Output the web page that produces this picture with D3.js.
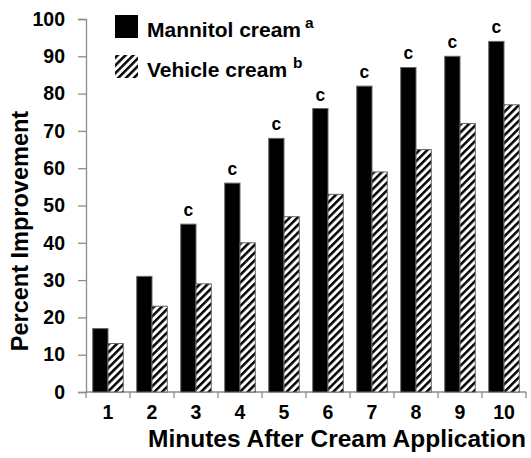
<!DOCTYPE html>
<html><head><meta charset="utf-8">
<script src="https://cdn.jsdelivr.net/npm/d3@7"></script>
<style>
body{margin:0;background:#fff;}
svg{display:block;font-family:"Liberation Sans",Arial,sans-serif;font-weight:bold;}
</style></head>
<body>
<script>
const categories = ["1","2","3","4","5","6","7","8","9","10"];
const mannitol = [17,31,45,56,68,76,82,87,90,94];
const vehicle = [13,23,29,40,47,53,59,65,72,77];
const sigMarks = ["","","c","c","c","c","c","c","c","c"];
const yTicks = [0,10,20,30,40,50,60,70,80,90,100];
const seriesNames = ["Mannitol cream","Vehicle cream"];
const seriesSup = ["a","b"];

const W=531,H=458;
const svg=d3.select("body").append("svg").attr("width",W).attr("height",H);
const defs=svg.append("defs");
const pat=defs.append("pattern").attr("id","hatch").attr("patternUnits","userSpaceOnUse")
  .attr("width",5.5).attr("height",5.5).attr("patternTransform","rotate(45)");
pat.append("rect").attr("width",5.5).attr("height",5.5).attr("fill","#fff");
pat.append("rect").attr("x",0).attr("y",0).attr("width",2.5).attr("height",5.5).attr("fill","#000");

const mLeft=86,mRight=526,mTop=19,mBottom=392;
const y=d3.scaleLinear().domain([0,100]).range([mBottom,mTop]);
const x0=d3.scaleBand().domain(categories).range([mLeft,mRight]).padding(0);
const x1=d3.scaleBand().domain([0,1]).range([0,x0.bandwidth()]).paddingInner(0).paddingOuter(0.44);

// y axis
const yAxis=svg.append("g").attr("transform",`translate(${mLeft},0)`)
  .call(d3.axisLeft(y).tickValues(yTicks).tickSize(8).tickPadding(13));
yAxis.select(".domain").attr("stroke","#8c8c8c").attr("stroke-width",1.3);
yAxis.selectAll(".tick line").attr("stroke","#8c8c8c").attr("stroke-width",1.3);
yAxis.selectAll(".tick text").attr("font-size",19.5).attr("font-weight","bold").attr("fill","#000")
  .attr("font-family","Liberation Sans, Arial, sans-serif");

// x axis baseline and boundary ticks
svg.append("line").attr("x1",mLeft).attr("x2",mRight).attr("y1",y(0)).attr("y2",y(0))
  .attr("stroke","#8c8c8c").attr("stroke-width",1.3);
const bounds=categories.map(c=>x0(c)).concat([x0(categories[categories.length-1])+x0.bandwidth()]);
svg.selectAll(".xt").data(bounds).join("line").attr("x1",d=>d).attr("x2",d=>d)
  .attr("y1",y(0)).attr("y2",y(0)+6).attr("stroke","#8c8c8c").attr("stroke-width",1.3);
svg.selectAll(".xl").data(categories).join("text")
  .attr("x",d=>x0(d)+x0.bandwidth()/2).attr("y",419).attr("text-anchor","middle")
  .attr("font-size",19.5).text(d=>d);

// bars
const g=svg.append("g");
g.selectAll(".bm").data(categories).join("rect")
  .attr("x",d=>x0(d)+x1(0)).attr("width",x1.bandwidth())
  .attr("y",(d,i)=>y(mannitol[i])).attr("height",(d,i)=>y(0)-y(mannitol[i]))
  .attr("fill","#000").attr("stroke","#666").attr("stroke-width",1);
g.selectAll(".bv").data(categories).join("rect")
  .attr("x",d=>x0(d)+x1(1)).attr("width",x1.bandwidth())
  .attr("y",(d,i)=>y(vehicle[i])).attr("height",(d,i)=>y(0)-y(vehicle[i]))
  .attr("fill","url(#hatch)").attr("stroke","#666").attr("stroke-width",1);
g.selectAll(".sig").data(categories).join("text")
  .attr("x",d=>x0(d)+x1(0)+x1.bandwidth()/2).attr("y",(d,i)=>y(mannitol[i])-8)
  .attr("text-anchor","middle").attr("font-size",17.5).text((d,i)=>sigMarks[i]);

// legend
const lg=svg.append("g");
const ly=[15,55];
const supDx=[4,6];
seriesNames.forEach((n,i)=>{
  lg.append("rect").attr("x",115).attr("y",ly[i]).attr("width",23).attr("height",23)
    .attr("fill",i===0?"#000":"url(#hatch)");
  const t=lg.append("text").attr("x",147).attr("y",ly[i]+22).attr("font-size",21);
  t.append("tspan").text(n);
  t.append("tspan").attr("dx",supDx[i]).attr("dy",-9).attr("font-size",15.5).text(seriesSup[i]);
});

// axis titles
svg.append("text").attr("transform","translate(28,231) rotate(-90)").attr("text-anchor","middle")
  .attr("font-size",23.5).text("Percent Improvement");
svg.append("text").attr("x",337).attr("y",447).attr("text-anchor","middle")
  .attr("font-size",24.5).text("Minutes After Cream Application");
</script>
</body></html>
